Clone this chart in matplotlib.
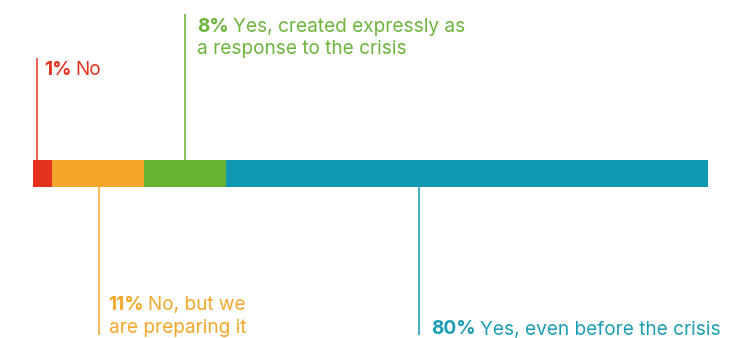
import matplotlib.pyplot as plt
from matplotlib.transforms import offset_copy

plt.rcParams['font.family'] = ['Inter', 'DejaVu Sans']

# Survey answers (label values) and segment widths as drawn in the picture
answers = ['No', 'No, but we\nare preparing it',
           'Yes, created expressly as\na response to the crisis',
           'Yes, even before the crisis']
pct = [1, 11, 8, 80]
shares = [2.8, 13.6, 12.2, 71.4]

colors = ['#E5321F', '#F4A72A', '#66B232', '#1099B0']
text_colors = ['#E5321F', '#F4A72A', '#6CB43C', '#1C9DB4']

fig = plt.figure(figsize=(7.56, 3.38), dpi=100)
ax = fig.add_axes([0, 0, 1, 1])
ax.set_xlim(-4.89, 107.1)
ax.set_ylim(338, 0)
ax.axis('off')

bar_top, bar_bot = 160, 187
lefts = [sum(shares[:i]) for i in range(len(shares))]
ax.barh((bar_top + bar_bot) / 2, shares, left=lefts, height=bar_bot - bar_top,
        color=colors, linewidth=0)

# leader position inside each segment, label placement
lead_frac = [0.22, 0.51, 0.5, 0.4]
lead_end = [58, 335, 14, 335]       # y end of leader line
text_dx = [1.0, 1.45, 1.8, 1.85]    # offset of text from leader (data units)
baseline = [75, 310, 31.5, 334.5]
line_gap = 23
fs = 13.7

fig.canvas.draw()
renderer = fig.canvas.get_renderer()

for i in range(len(pct)):
    xl = lefts[i] + shares[i] * lead_frac[i]
    y0 = bar_top if lead_end[i] < bar_top else bar_bot
    ax.plot([xl, xl], [y0, lead_end[i]], color=colors[i], lw=1.1,
            solid_capstyle='butt')
    xt = xl + text_dx[i]
    lines = answers[i].split('\n')
    b = ax.text(xt, baseline[i], f'{pct[i]}%', color=text_colors[i],
                fontsize=fs, fontweight='bold', va='baseline', ha='left')
    w = b.get_window_extent(renderer).width
    tr = offset_copy(ax.transData, fig=fig, x=w + 4, y=0, units='dots')
    ax.text(xt, baseline[i], lines[0], color=text_colors[i], fontsize=fs,
            va='baseline', ha='left', transform=tr)
    for k, extra in enumerate(lines[1:], start=1):
        ax.text(xt, baseline[i] + k * line_gap, extra, color=text_colors[i],
                fontsize=fs, va='baseline', ha='left')

plt.savefig('out.png', dpi=100)
